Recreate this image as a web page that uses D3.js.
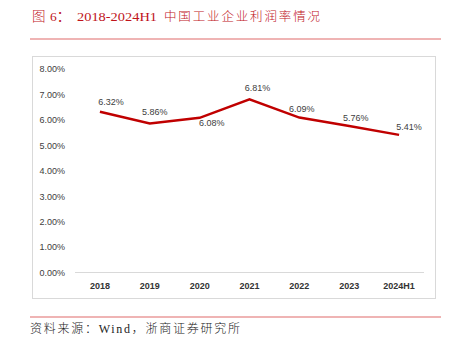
<!DOCTYPE html>
<html><head><meta charset="utf-8">
<script src="https://cdn.jsdelivr.net/npm/d3@7"></script>
<style>html,body{margin:0;padding:0;background:#fff;}svg{display:block;}</style>
</head><body>
<script>
const categories = ["2018","2019","2020","2021","2022","2023","2024H1"];
const profitMargin = [6.32, 5.86, 6.08, 6.81, 6.09, 5.76, 5.41];
const yTicks = [0,1,2,3,4,5,6,7,8];
// label placement offsets (layout only)
const labelDx = [11, 5, 12, 8, 2.5, 6.5, 10];
const labelDy = [-9.5, -11.5, 5.5, -11, -8.5, -8.5, -8.5];

const W = 451, H = 345;
const svg = d3.select("body").append("svg").attr("width", W).attr("height", H);

// Title
const title = svg.append("text").attr("y", 21).attr("fill", "#c0141c")
  .style("font-family", "'Liberation Serif','Noto Sans CJK SC',serif").style("font-size", "13.5px");
title.append("tspan").attr("x", 32).style("font-weight","300").text("图");
title.append("tspan").attr("x", 50).text("6：");
title.append("tspan").attr("x", 77).attr("textLength", 80).attr("lengthAdjust","spacingAndGlyphs").text("2018-2024H1");
title.append("tspan").attr("x", 164).attr("textLength", 156).attr("lengthAdjust","spacing").style("font-size","12.5px").style("font-weight","300").text("中国工业企业利润率情况");

// rules
svg.append("line").attr("x1", 30).attr("x2", 441).attr("y1", 39).attr("y2", 39).attr("stroke", "#e06a6a").attr("stroke-width", 1.2);
svg.append("line").attr("x1", 30).attr("x2", 441).attr("y1", 317).attr("y2", 317).attr("stroke", "#e06a6a").attr("stroke-width", 1.2);

// chart frame
svg.append("rect").attr("x", 32.5).attr("y", 56.5).attr("width", 403).attr("height", 242).attr("fill", "#fff").attr("stroke", "#d9d9d9");

const x = d3.scaleBand().domain(categories).range([75, 424]).padding(0);
const y = d3.scaleLinear().domain([0, 8]).range([272.5, 69]);

// y axis labels
const yAxis = d3.axisLeft(y).tickValues(yTicks).tickFormat(d => d.toFixed(2) + "%").tickSize(0).tickPadding(0);
const yg = svg.append("g").attr("transform", "translate(65,0)").call(yAxis);
yg.select(".domain").remove();
yg.selectAll("text").attr("fill", "#404040").style("font-family", "'Liberation Sans',Arial,sans-serif").style("font-size", "9px");

// baseline
svg.append("line").attr("x1", 75).attr("x2", 424).attr("y1", y(0)).attr("y2", y(0)).attr("stroke", "#d9d9d9").attr("stroke-width", 1);

// x axis
const xAxis = d3.axisBottom(x).tickSize(0).tickPadding(0);
const xg = svg.append("g").attr("transform", `translate(0,${y(0) + 10})`).call(xAxis);
xg.select(".domain").remove();
xg.selectAll("text").attr("fill", "#333").style("font-family", "'Liberation Sans',Arial,sans-serif").style("font-size", "9px").style("font-weight", "bold").attr("dy", "0.71em");

// line
const line = d3.line().x((d, i) => x(categories[i]) + x.bandwidth() / 2).y(d => y(d));
svg.append("path").datum(profitMargin).attr("d", line).attr("fill", "none").attr("stroke", "#c00000").attr("stroke-width", 2.5).attr("stroke-linejoin", "miter");

// labels
svg.append("g").selectAll("text").data(profitMargin).join("text")
  .attr("x", (d, i) => x(categories[i]) + x.bandwidth() / 2 + labelDx[i])
  .attr("y", (d, i) => y(d) + labelDy[i])
  .attr("dy", "0.35em").attr("text-anchor", "middle")
  .attr("fill", "#404040").style("font-family", "'Liberation Sans',Arial,sans-serif").style("font-size", "9px")
  .text(d => d.toFixed(2) + "%");

// source
svg.append("text").attr("x", 30).attr("y", 333).attr("fill", "#222")
  .attr("textLength", 210).attr("lengthAdjust", "spacing")
  .style("font-family", "'Liberation Serif','Noto Sans CJK SC',serif").style("font-size", "12px").style("font-weight","300")
  .text("资料来源：Wind，浙商证券研究所");
</script>
</body></html>
